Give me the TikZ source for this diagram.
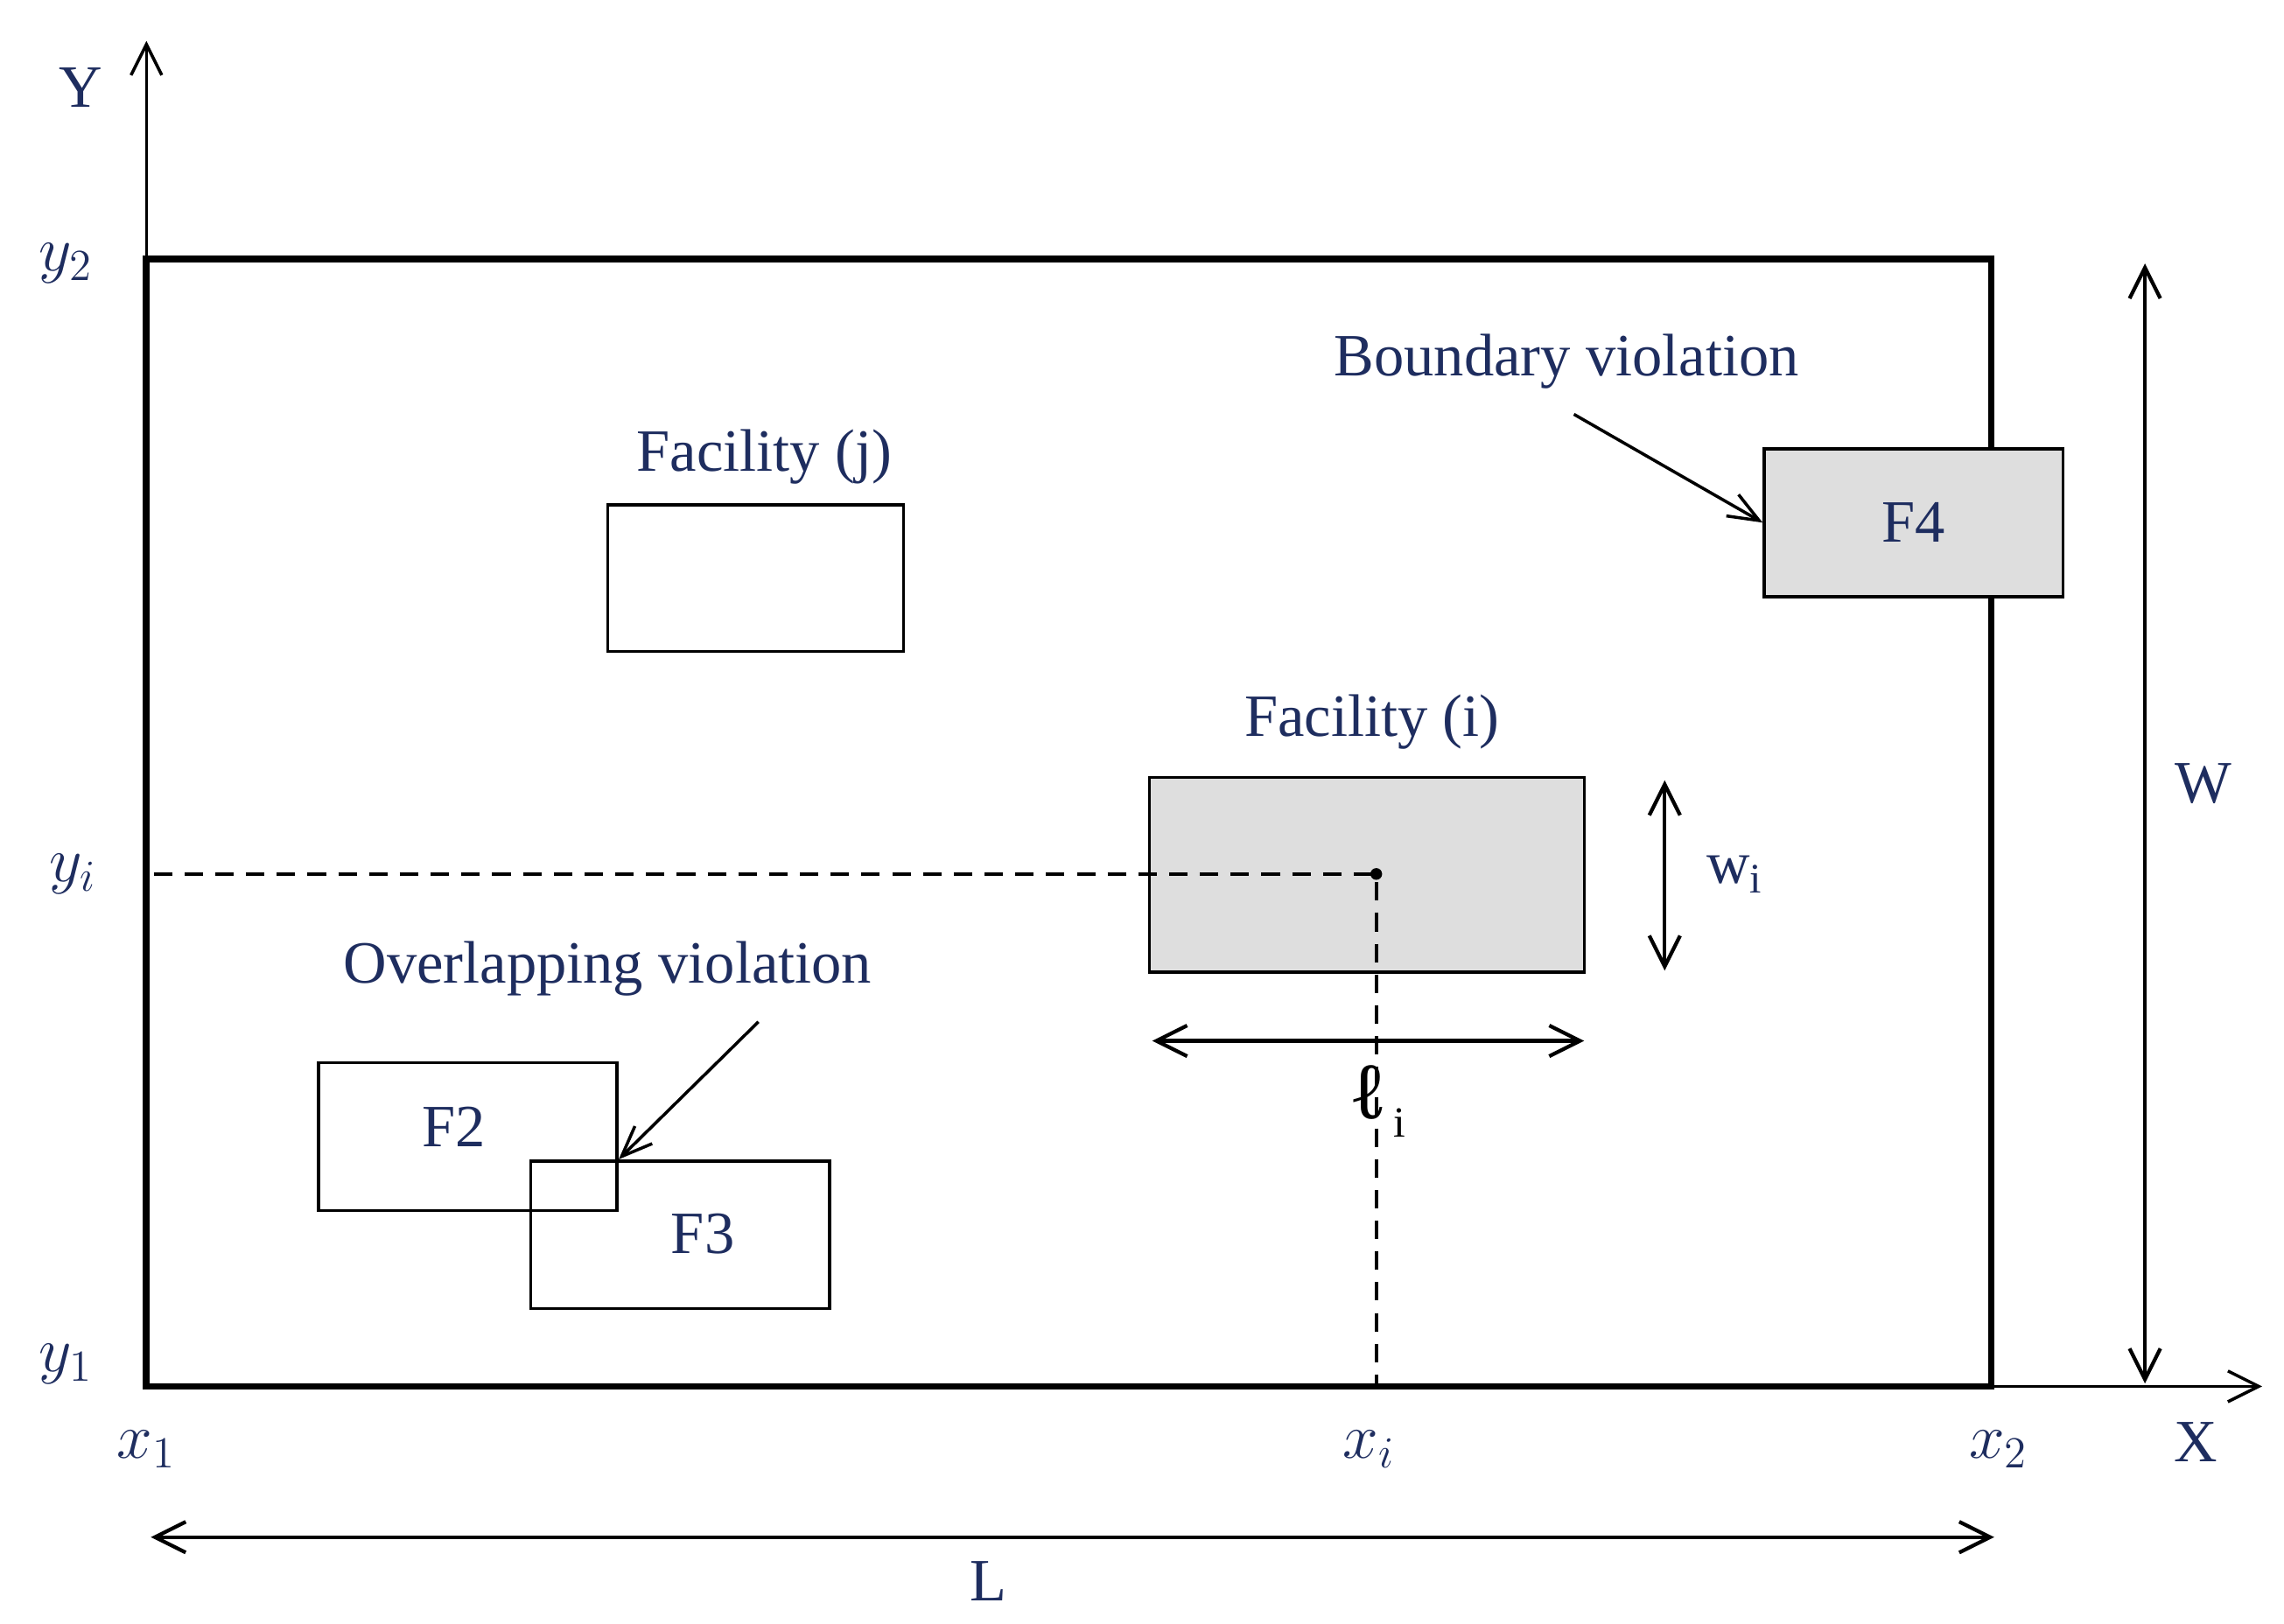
\documentclass[tikz,border=0pt]{standalone}
\usepackage{fontspec}
\setmainfont{Liberation Serif}
\usetikzlibrary{arrows.meta}
\definecolor{txt}{RGB}{30,45,95}
\definecolor{fill}{RGB}{222,222,222}
\begin{document}
\begin{tikzpicture}[x=0.016731cm,y=-0.016731cm,
  lab/.style={text=txt,font=\fontsize{19.5}{23}\selectfont,inner sep=0pt},
  dim/.style={{Straight Barb[length=10pt,width=10pt]}-{Straight Barb[length=10pt,width=10pt]},line width=1.2pt},
  call/.style={-{Straight Barb[length=10pt,width=8pt]},line width=1pt},
  fac/.style={draw,line width=1pt,minimum width=204*0.016731cm,minimum height=101*0.016731cm,inner sep=0pt,text=txt,font=\fontsize{19.5}{23}\selectfont}]
\useasboundingbox (0,0) rectangle (1560,1109);
\coordinate (o) at (100,947);
\coordinate (ytop) at (100,28);
\coordinate (xend) at (1545,947);
\draw[-{Straight Barb[length=10pt,width=10pt]},line width=1pt] (o) -- (ytop);
\draw[-{Straight Barb[length=10pt,width=10pt]},line width=1pt] (o) -- (xend);
\draw[line width=2.2pt] (100,177) rectangle (1360,947);
\node[lab] (Y) at (55,60) {Y};
\node[lab] (X) at (1500,985) {X};
\node[lab] (y2) at (45,180) {$y_2$};
\node[lab] (yi) at (50,597) {$y_i$};
\node[lab] (y1) at (45,932) {$y_1$};
\node[lab] (x1) at (100,990) {$x_1$};
\node[lab] (xi) at (935,990) {$x_i$};
\node[lab] (x2) at (1365,990) {$x_2$};
\coordinate (La) at (103,1050); \coordinate (Lb) at (1362,1050);
\draw[dim] (La) -- (Lb);
\node[lab] (L) at (675,1080) {L};
\coordinate (Wa) at (1465,180); \coordinate (Wb) at (1465,945);
\draw[dim] (Wa) -- (Wb);
\node[lab] (W) at (1505,535) {W};
\node[fac,minimum width=202*0.016731cm,minimum height=100*0.016731cm] (Fj) at (516,395) {};
\node[lab] (Fjl) at (522,312) {Facility (j)};
\node[fac,fill=fill,minimum width=297*0.016731cm,minimum height=133*0.016731cm] (Fi) at (933.5,597.5) {};
\node[lab] (Fil) at (937,493) {Facility (i)};
\coordinate (c) at (940,597);
\coordinate (dl) at (105,597); \coordinate (db) at (940,947);
\draw[dashed,line width=1.2pt,dash pattern=on 6pt off 4pt] (dl) -- (c) -- (db);
\fill (c) circle (4);
\coordinate (wa) at (1137,533); \coordinate (wb) at (1137,663);
\draw[dim] (wa) -- (wb);
\node[lab] (wi) at (1185,597) {w$_{\mathrm{i}}$};
\coordinate (la) at (787,711); \coordinate (lb) at (1082,711);
\draw[dim] (la) -- (lb);
\node[lab,text=black] (li) at (942,752) {\textbf{\fontsize{26}{28}\selectfont ℓ}\,{\fontsize{14}{16}\selectfont\raisebox{-6pt}{i}}};
\node[fac,fill=fill] (F4) at (1307,357) {F4};
\node[lab] (bv) at (1070,247) {Boundary violation};
\coordinate (bvs) at (1075,283);
\draw[call] (bvs) -- (F4.west);
\node[fac] (F2) at (319.5,776.5) {};
\node[lab] at (310,770) {F2};
\node[fac] (F3) at (464.5,843.5) {};
\node[lab] at (480,843) {F3};
\node[lab] (ov) at (415,662) {Overlapping violation};
\coordinate (ovs) at (518,698);
\coordinate (ovt) at (F2.east |- F3.north);
\draw[call] (ovs) -- (ovt);
\end{tikzpicture}
\end{document}
